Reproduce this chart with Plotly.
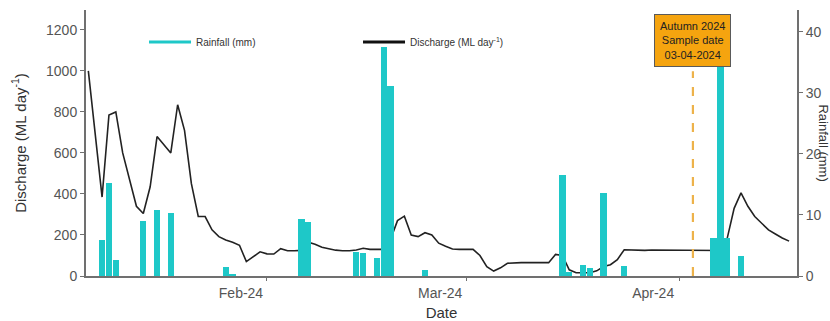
import pandas as pd
import plotly.graph_objects as go

# ---- data ----
discharge_start = "2024-01-06"
discharge = [1000, 690, 385, 785, 800, 600, 470, 340, 305, 435,
             680, 640, 600, 835, 710, 450, 290, 290, 225, 192,
             176, 165, 150, 70, 95, 118, 108, 107, 133, 123,
             123, 125, 165, 155, 140, 133, 126, 123, 123, 127,
             135, 130, 130, 130, 180, 270, 292, 200, 192, 211,
             200, 160, 145, 132, 130, 130, 130, 100, 45, 24,
             40, 62, 65, 65, 65, 65, 65, 65, 105, 100,
             30, 16, 16, 16, 25, 46, 55, 80, 128, 127,
             125, 125, 127, 127, 125, 125, 125, 125, 125, 124,
             124, 124, 124, 185, 330, 405, 340, 290, 255, 225,
             205, 185, 170]
discharge_dates = pd.date_range(discharge_start, periods=len(discharge), freq="D")

rain_dates = ["2024-01-08", "2024-01-09", "2024-01-10", "2024-01-14", "2024-01-16",
              "2024-01-18", "2024-01-26", "2024-01-27", "2024-02-06", "2024-02-07",
              "2024-02-14", "2024-02-15", "2024-02-17", "2024-02-18", "2024-02-19",
              "2024-02-24", "2024-03-15", "2024-03-16", "2024-03-18", "2024-03-19",
              "2024-03-21", "2024-03-24", "2024-04-06", "2024-04-07", "2024-04-08",
              "2024-04-10"]
rain_mm = [5.9, 15.3, 2.7, 9.0, 10.8,
           10.4, 1.4, 0.4, 9.3, 8.9,
           4.0, 3.8, 2.9, 37.5, 31.1,
           1.0, 16.6, 0.7, 1.8, 1.3,
           13.6, 1.6, 6.2, 37.0, 6.2,
           3.3]

month_ticks = ["2024-02-01", "2024-03-01", "2024-04-01"]
month_labels = ["Feb-24", "Mar-24", "Apr-24"]
left_ticks = [0, 200, 400, 600, 800, 1000, 1200]
right_ticks = [0, 10, 20, 30, 40]
sample_date = "2024-04-03"
sample_text = "Autumn 2024<br>Sample date<br>03-04-2024"

CYAN = "#1EC8C8"
AXIS = "#707070"
TXT = "#4a4a4a"
FONT = "Arial, Liberation Sans, sans-serif"
DAY_MS = 86400000

fig = go.Figure()

# discharge line (left axis)
fig.add_trace(go.Scatter(x=discharge_dates, y=discharge, mode="lines",
                         line=dict(color="#222222", width=1.6),
                         showlegend=False, yaxis="y"))
# rainfall bars (right axis, drawn above)
fig.add_trace(go.Bar(x=pd.to_datetime(rain_dates), y=rain_mm, marker_color=CYAN,
                     marker_line_width=0, width=DAY_MS * 0.93,
                     showlegend=False, yaxis="y2"))
# legend entries
fig.add_trace(go.Scatter(x=[None], y=[None], mode="lines", name="Rainfall (mm)",
                         line=dict(color=CYAN, width=3), yaxis="y2"))
fig.add_trace(go.Scatter(x=[None], y=[None], mode="lines",
                         name="Discharge (ML day<sup>-1</sup>)",
                         line=dict(color="#111111", width=3), yaxis="y"))

fig.add_shape(type="line", xref="x", yref="paper", x0=sample_date, x1=sample_date,
              y0=0, y1=0.77, line=dict(color="#EDB24A", width=2.2, dash="dash"),
              layer="above")

fig.add_annotation(x=sample_date, xref="x", y=0.885, yref="paper", text=sample_text,
                   showarrow=False, bgcolor="#F5A40F", bordercolor="#5a5a5a",
                   borderwidth=1, borderpad=5, font=dict(size=11, color="#222", family=FONT),
                   align="center", yanchor="middle")

fig.add_annotation(x=1.0373, xref="paper", y=0.5, yref="paper", text="Rainfall (mm)",
                   textangle=90, showarrow=False, font=dict(size=13, color="#333", family=FONT),
                   xanchor="center", yanchor="middle")

fig.update_layout(
    width=830, height=321,
    margin=dict(l=86, r=33, t=10, b=45),
    paper_bgcolor="white", plot_bgcolor="white",
    font=dict(family=FONT, color=TXT),
    bargap=0,
    legend=dict(orientation="h", x=0.0816, y=0.88, xanchor="left", yanchor="middle",
                font=dict(size=10, color="#333"), entrywidth=157, entrywidthmode="pixels",
                itemwidth=42, bgcolor="rgba(0,0,0,0)", traceorder="normal"),
    xaxis=dict(type="date", range=["2024-01-05 15:50", "2024-04-18 03:36"],
               tickvals=month_ticks, ticktext=month_labels, ticklabelshift=-26,
               showline=True, linecolor=AXIS, linewidth=2, ticks="outside",
               ticklen=3, tickcolor=AXIS, showgrid=False, zeroline=False,
               tickfont=dict(size=14, color="#555"), automargin=False,
               title=dict(text="Date", font=dict(size=15, color="#333"), standoff=10)),
    yaxis=dict(range=[0, 1297], tickvals=left_ticks, showline=True, linecolor=AXIS,
               linewidth=2, ticks="outside", ticklen=4, tickcolor=AXIS, showgrid=False,
               zeroline=False, tickfont=dict(size=14, color="#555"), automargin=False,
               title=dict(text="Discharge (ML day<sup>-1</sup>)",
                          font=dict(size=15, color="#333"), standoff=16)),
    yaxis2=dict(range=[0, 43.6], tickvals=right_ticks, overlaying="y", side="right",
                showline=True, linecolor=AXIS, linewidth=2, ticks="outside", ticklen=4,
                tickcolor=AXIS, showgrid=False, zeroline=False, automargin=False,
                tickfont=dict(size=14, color="#555")),
)

fig.write_html("out.html")
